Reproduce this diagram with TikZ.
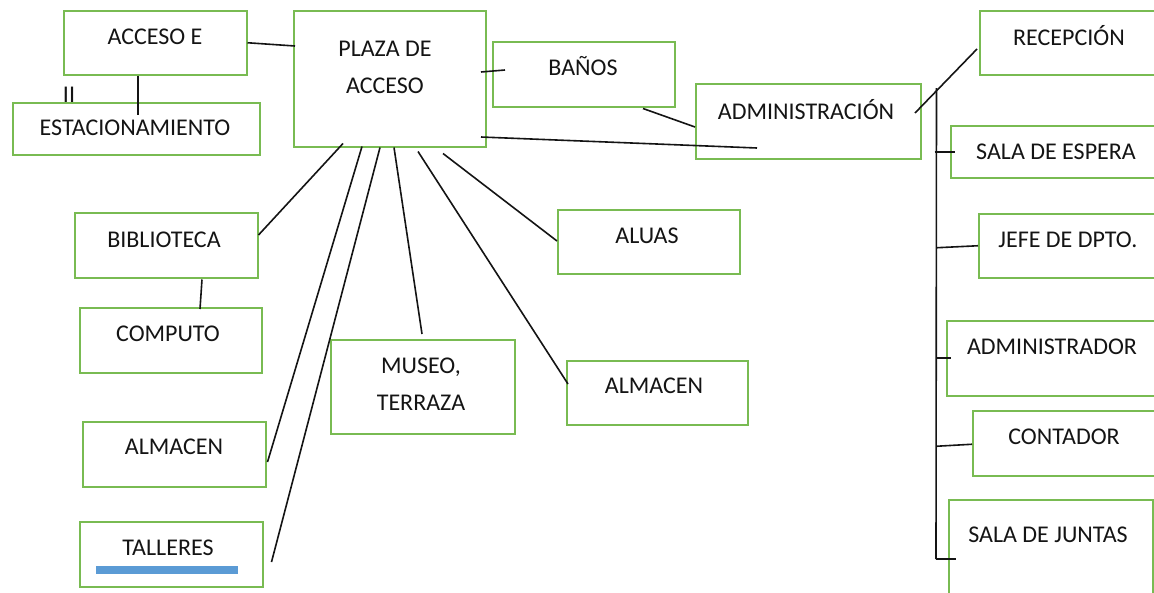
\documentclass[tikz,border=0pt]{standalone}
\usepackage{fontspec}
\setmainfont{Carlito}
\usetikzlibrary{positioning,calc}
\definecolor{boxgreen}{HTML}{79BB52}
\definecolor{barblue}{HTML}{5B9BD5}
\definecolor{inkdark}{HTML}{141414}

\begin{document}
\begin{tikzpicture}[x=1pt, y=-1pt,
  font=\fontsize{24}{37}\selectfont,
  area/.style={draw=boxgreen, line width=1.5pt, fill=white, inner sep=0pt, anchor=north west},
  txt/.style={text=inkdark, align=center, inner sep=0pt},
  link/.style={draw=inkdark, line width=1.6pt}]
\useasboundingbox (0,0) rectangle (1154,592);
\clip (0,0) rectangle (1154,592);
\fill[white] (0,0) rectangle (1154,592);
% access
\node[txt] (mark) at (69,95) {II};
\node[area, minimum width=183pt, minimum height=64pt] (acceso) at (63,10) {};
\node[txt] (accesot) at (155,37) {ACCESO E};
\node[area, minimum width=247pt, minimum height=52pt] (estac) at (12,102) {};
\node[txt] (estact) at (135,128) {ESTACIONAMIENTO};
\node[area, minimum width=192pt, minimum height=136pt] (plaza) at (293,10) {};
\node[txt] (plazat) at (385,67) {PLAZA DE\\ACCESO};
\node[area, minimum width=182pt, minimum height=65pt] (banos) at (492,41) {};
\node[txt] (banost) at (583,66) {BAÑOS};
\node[area, minimum width=225pt, minimum height=75pt] (admin) at (695,83) {};
\node[txt] (admint) at (806,110) {ADMINISTRACIÓN};
% left column
\node[area, minimum width=183pt, minimum height=65pt] (biblio) at (74,212) {};
\node[txt] (bibliot) at (164,240) {BIBLIOTECA};
\node[area, minimum width=182pt, minimum height=65pt] (computo) at (79,307) {};
\node[txt] (computot) at (168,334) {COMPUTO};
\node[area, minimum width=183pt, minimum height=65pt] (almacenl) at (82,421) {};
\node[txt] (almacenlt) at (174,447) {ALMACEN};
\node[area, minimum width=183pt, minimum height=65pt] (talleres) at (79,521) {};
\node[txt] (tallerest) at (168,548) {TALLERES};
\fill[barblue] ($(talleres.north west)+(17,45)$) rectangle ($(talleres.north west)+(159,53)$);
% middle
\node[area, minimum width=184pt, minimum height=94pt] (museo) at (330,339) {};
\node[txt] (museot) at (421,384) {MUSEO,\\TERRAZA};
\node[area, minimum width=182pt, minimum height=64pt] (aluas) at (557,209) {};
\node[txt] (aluast) at (647,236) {ALUAS};
\node[area, minimum width=181pt, minimum height=64pt] (almacenr) at (566,360) {};
\node[txt] (almacenrt) at (654,386) {ALMACEN};
% administration staff
\node[area, minimum width=185pt, minimum height=64pt] (recep) at (979,10) {};
\node[txt] (recept) at (1069,36) {RECEPCIÓN};
\node[area, minimum width=210pt, minimum height=52pt] (espera) at (950,125) {};
\node[txt] (esperat) at (1056,152) {SALA DE ESPERA};
\node[area, minimum width=185pt, minimum height=64pt] (jefe) at (978,213) {};
\node[txt] (jefet) at (1068,240) {JEFE DE DPTO.};
\node[area, minimum width=215pt, minimum height=75pt] (admor) at (946,320) {};
\node[txt] (admort) at (1052,347) {ADMINISTRADOR};
\node[area, minimum width=190pt, minimum height=65pt] (contador) at (972,410) {};
\node[txt] (contadort) at (1064,437) {CONTADOR};
\node[area, minimum width=204pt, minimum height=100pt] (juntas) at (948,499) {};
\node[txt] (juntast) at (1048,535) {SALA DE JUNTAS};
% links
\draw[link] ($(acceso.south west)+(75,0)$) -- ($(estac.north west)+(126,13)$);
\draw[link] (acceso.east) -- ($(plaza.north west)+(2,36)$);
\draw[link] ($(plaza.north west)+(188,62)$) -- ($(banos.north west)+(13,29)$);
\draw[link] ($(banos.south west)+(151,1)$) -- ($(admin.north west)+(0,44)$);
\draw[link] ($(plaza.north west)+(188,127)$) -- ($(admin.north west)+(62,65)$);
\draw[link] ($(admin.north west)+(220,30)$) -- ($(recep.north west)+(-2,39)$);
\draw[link] ($(plaza.south west)+(50,-4)$) -- ($(biblio.north east)+(0,23)$);
\draw[link] ($(biblio.south west)+(128,1)$) -- ($(computo.north west)+(121,2)$);
\draw[link] ($(plaza.south west)+(69,-1)$) -- ($(almacenl.north east)+(1,41)$);
\draw[link] ($(plaza.south west)+(87,0)$) -- ($(talleres.north east)+(8,41)$);
\draw[link] ($(plaza.south west)+(101,0)$) -- ($(museo.north west)+(92,-5)$);
\draw[link] ($(plaza.south west)+(125,4)$) -- ($(almacenr.north west)+(2,24)$);
\draw[link] ($(plaza.south west)+(150,6)$) -- ($(aluas.north west)+(0,32)$);
% staff spine
\coordinate (spinetop) at ($(admin.north east)+(15,5)$);
\coordinate (spinebot) at ($(juntas.north west)+(-12,60)$);
\draw[link] (spinetop) -- (spinebot);
\draw[link] ($(spinetop |- espera.west)+(-2,0)$) -- ($(espera.west)+(5,0)$);
\draw[link] ($(spinetop |- jefe.west)+(0,2)$) -- (jefe.west);
\draw[link] (spinetop |- admor.west) -- ($(admor.west)+(5,0)$);
\draw[link] ($(spinetop |- contador.west)+(0,3)$) -- ($(contador.west)+(0,1)$);
\draw[link] (spinebot) -- ($(juntas.north west)+(8,60)$);
\end{tikzpicture}
\end{document}
